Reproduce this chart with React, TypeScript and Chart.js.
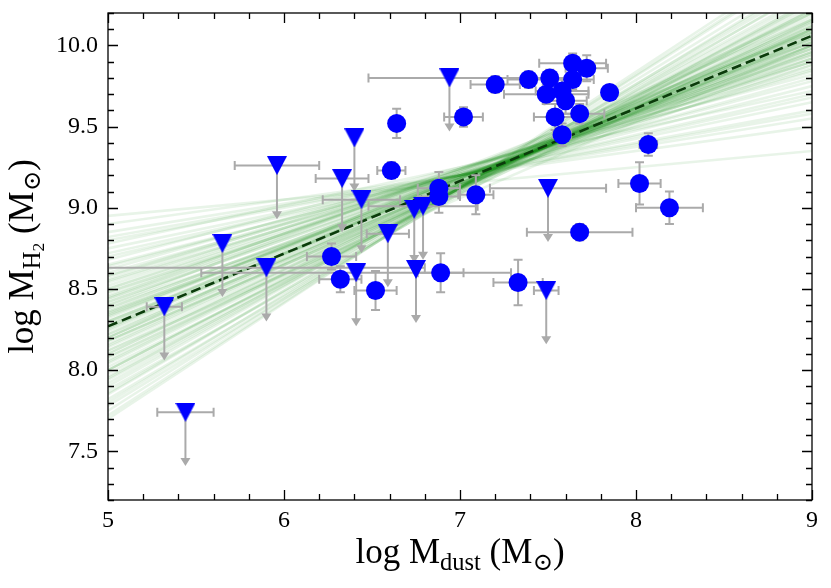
import React, { useEffect, useRef } from "react";
import { Chart, registerables } from "chart.js";

Chart.register(...registerables);

// detections: log M_dust, log M_H2 and their 1-sigma errors
const detX = [6.64, 6.61, 7.02, 7.2, 7.39, 7.51, 7.49, 7.58, 7.6, 7.64, 7.64, 7.72, 7.85, 7.54, 7.68, 7.58, 8.07, 8.02, 8.19, 7.68, 7.09, 6.88, 6.88, 6.27, 6.32, 6.52, 6.89, 7.33];
const detY = [9.52, 9.23, 9.56, 9.76, 9.79, 9.8, 9.7, 9.72, 9.66, 9.79, 9.89, 9.86, 9.71, 9.56, 9.58, 9.45, 9.39, 9.15, 9.0, 8.85, 9.08, 9.12, 9.07, 8.7, 8.56, 8.49, 8.6, 8.54];
const detXErr = [0, 0.08, 0.11, 0.14, 0.12, 0.15, 0.24, 0.15, 0.12, 0.12, 0.19, 0.12, 0, 0.12, 0.14, 0.05, 0.05, 0.12, 0.19, 0.3, 0.1, 0.12, 0.12, 0.14, 0.12, 0.12, 0.13, 0.14];
const detYErr = [0.09, 0.05, 0.06, 0.05, 0.05, 0.05, 0.06, 0.07, 0.08, 0.06, 0.06, 0.08, 0, 0.08, 0.06, 0.07, 0.07, 0.13, 0.1, 0.05, 0.12, 0.1, 0.1, 0.08, 0.08, 0.12, 0.12, 0.14];

// upper limits on M_H2
const limX = [6.94, 6.4, 5.96, 6.33, 6.44, 6.74, 6.79, 7.5, 7.49, 5.65, 5.9, 6.41, 6.59, 5.32, 5.44, 6.75];
const limY = [9.8, 9.43, 9.26, 9.18, 9.05, 8.99, 9.01, 9.12, 8.49, 8.78, 8.63, 8.6, 8.84, 8.39, 7.74, 8.62];
const limXErr = [0.46, 0, 0.24, 0.15, 0.22, 0, 0.31, 0.33, 0.07, 0, 0.9, 0.88, 0.12, 0.1, 0.16, 0];
const limArrow = 0.33;

// best fit line and posterior draws (log M_H2 at log M_dust = 5 and 9)
const fitX = [5, 9];
const fitY = [8.27, 10.06];
const fanY5 = [8.27, 8.2, 8.35, 8.1, 8.42, 8.3, 8.15, 8.22, 8.38, 8.05, 8.48, 8.0, 8.55, 7.95, 8.6, 7.9, 8.65, 7.85, 8.7, 7.8, 8.75, 7.75, 8.82, 7.7, 8.9, 8.95, 8.33, 8.25, 8.18, 8.4, 8.12, 8.28, 8.45, 8.08, 8.36, 8.2, 8.5, 8.02, 8.58, 7.98, 8.62, 7.88, 8.68, 7.82, 8.78, 8.3, 8.24, 8.4, 8.14, 8.44, 8.06, 8.52, 8.32, 8.26, 8.18, 8.36, 8.1, 8.46, 8.0, 8.56, 8.22, 8.34, 8.16, 8.42, 8.04, 8.28, 8.48, 7.96, 8.54, 8.12, 8.38, 8.2, 8.64, 7.92, 8.72, 7.86, 8.3, 8.26, 8.44, 8.08, 8.58, 8.0, 8.34, 8.18, 8.5, 7.94, 8.8, 7.78, 8.85, 7.72];
const fanY9 = [10.06, 10.1, 10.0, 10.18, 9.95, 10.02, 10.14, 10.08, 9.98, 10.22, 9.9, 10.26, 9.85, 10.3, 9.8, 10.35, 9.75, 10.4, 9.7, 10.45, 9.65, 10.5, 9.58, 10.55, 9.5, 9.35, 10.04, 10.12, 10.05, 10.08, 10.0, 10.16, 10.02, 10.1, 9.92, 10.2, 9.96, 10.15, 9.9, 10.22, 9.86, 10.28, 9.82, 10.36, 9.72, 9.96, 10.0, 9.88, 10.12, 10.0, 10.2, 9.94, 10.08, 10.04, 10.1, 10.02, 10.16, 9.98, 10.24, 9.92, 10.08, 10.0, 10.14, 9.96, 10.2, 10.04, 9.92, 10.26, 9.88, 10.12, 9.98, 10.1, 9.78, 10.32, 9.68, 10.38, 10.06, 10.1, 9.94, 10.16, 9.84, 10.22, 10.02, 10.06, 9.9, 10.28, 9.6, 10.42, 9.55, 10.52];

const xTicks = [5, 6, 7, 8, 9];
const yTicks = [7.5, 8.0, 8.5, 9.0, 9.5, 10.0];
const xMinorStep = 0.2;
const yMinorStep = 0.1;

const FONT = "'Liberation Serif', 'DejaVu Serif', serif";
const BAR = "#aaaaaa";

type Part = [string, number];

// draws text with subscript levels, centred on x
const drawRich = (ctx: CanvasRenderingContext2D, parts: Part[], x: number, y: number, size: number) => {
  const scale = [1, 0.7, 0.5];
  const shift = [0, 0.2, 0.32];
  let total = 0;
  parts.forEach(([t, l]) => {
    ctx.font = `${size * scale[l]}px ${FONT}`;
    total += ctx.measureText(t).width;
  });
  let cx = x - total / 2;
  parts.forEach(([t, l]) => {
    ctx.font = `${size * scale[l]}px ${FONT}`;
    ctx.fillText(t, cx, y + size * shift[l]);
    cx += ctx.measureText(t).width;
  });
};

const errorBars = {
  id: "errorBars",
  beforeDatasetDraw(chart: any, args: any) {
    if (args.index !== 1) return;
    const { ctx, chartArea: a, scales } = chart;
    const xs = scales.x;
    const ys = scales.y;
    ctx.save();
    ctx.beginPath();
    ctx.rect(a.left, a.top, a.right - a.left, a.bottom - a.top);
    ctx.clip();
    ctx.strokeStyle = BAR;
    ctx.fillStyle = BAR;
    ctx.lineWidth = 2;
    const cap = 4.5;
    const hbar = (x: number, y: number, e: number) => {
      if (!e) return;
      const l = xs.getPixelForValue(x - e);
      const r = xs.getPixelForValue(x + e);
      const py = ys.getPixelForValue(y);
      ctx.beginPath();
      ctx.moveTo(l, py); ctx.lineTo(r, py);
      ctx.moveTo(l, py - cap); ctx.lineTo(l, py + cap);
      ctx.moveTo(r, py - cap); ctx.lineTo(r, py + cap);
      ctx.stroke();
    };
    detX.forEach((x, i) => {
      hbar(x, detY[i], detXErr[i]);
      const e = detYErr[i];
      if (!e) return;
      const px = xs.getPixelForValue(x);
      const t = ys.getPixelForValue(detY[i] + e);
      const b = ys.getPixelForValue(detY[i] - e);
      ctx.beginPath();
      ctx.moveTo(px, t); ctx.lineTo(px, b);
      ctx.moveTo(px - cap, t); ctx.lineTo(px + cap, t);
      ctx.moveTo(px - cap, b); ctx.lineTo(px + cap, b);
      ctx.stroke();
    });
    limX.forEach((x, i) => {
      hbar(x, limY[i], limXErr[i]);
      const px = xs.getPixelForValue(x);
      const t = ys.getPixelForValue(limY[i]);
      const b = ys.getPixelForValue(limY[i] - limArrow);
      ctx.beginPath();
      ctx.moveTo(px, t); ctx.lineTo(px, b - 6);
      ctx.stroke();
      ctx.beginPath();
      ctx.moveTo(px - 5, b - 8); ctx.lineTo(px + 5, b - 8); ctx.lineTo(px, b);
      ctx.closePath();
      ctx.fill();
    });
    ctx.restore();
  },
};

const frame = {
  id: "frame",
  afterDraw(chart: any) {
    const { ctx, chartArea: a, scales } = chart;
    const xs = scales.x;
    const ys = scales.y;
    ctx.save();
    ctx.strokeStyle = "#000";
    ctx.lineWidth = 1.3;
    ctx.strokeRect(a.left, a.top, a.right - a.left, a.bottom - a.top);
    ctx.beginPath();
    for (let v = xs.min; v <= xs.max + 1e-6; v += xMinorStep) {
      const px = Math.round(xs.getPixelForValue(v)) + 0.5;
      const major = xTicks.some((t) => Math.abs(t - v) < 1e-6);
      const len = major ? 10 : 6;
      ctx.moveTo(px, a.bottom); ctx.lineTo(px, a.bottom - len);
      ctx.moveTo(px, a.top); ctx.lineTo(px, a.top + len);
    }
    for (let v = ys.min; v <= ys.max + 1e-6; v += yMinorStep) {
      const py = Math.round(ys.getPixelForValue(v)) + 0.5;
      const major = yTicks.some((t) => Math.abs(t - v) < 1e-6);
      const len = major ? 10 : 6;
      ctx.moveTo(a.left, py); ctx.lineTo(a.left + len, py);
      ctx.moveTo(a.right, py); ctx.lineTo(a.right - len, py);
    }
    ctx.stroke();

    ctx.fillStyle = "#000";
    ctx.textAlign = "left";
    ctx.textBaseline = "alphabetic";
    drawRich(ctx, [["log M", 0], ["dust", 1], [" (M", 0], ["\u2299", 1], [")", 0]], (a.left + a.right) / 2, 563, 35);
    ctx.translate(33, (a.top + a.bottom) / 2);
    ctx.rotate(-Math.PI / 2);
    drawRich(ctx, [["log M", 0], ["H", 1], ["2", 2], [" (M", 0], ["\u2299", 1], [")", 0]], 0, 0, 35);
    ctx.restore();
  },
};

const makeTriangle = () => {
  const c = document.createElement("canvas");
  c.width = 20;
  c.height = 19;
  const g = c.getContext("2d")!;
  g.fillStyle = "#0000ff";
  g.beginPath();
  g.moveTo(0, 0);
  g.lineTo(20, 0);
  g.lineTo(10, 19);
  g.closePath();
  g.fill();
  return c;
};

const App: React.FC = () => {
  const canvasRef = useRef<HTMLCanvasElement | null>(null);
  const chartRef = useRef<Chart | null>(null);

  useEffect(() => {
    if (!canvasRef.current) return;
    if (chartRef.current) chartRef.current.destroy();

    const fan = fanY5.map((y5, i) => ({
      data: [
        { x: 5, y: y5 },
        { x: 9, y: fanY9[i] },
      ],
      showLine: true,
      borderColor: "rgba(0,128,0,0.09)",
      borderWidth: 2.6,
      pointRadius: 0,
    }));

    chartRef.current = new Chart(canvasRef.current, {
      type: "scatter",
      data: {
        datasets: [
          {
            data: detX.map((x, i) => ({ x, y: detY[i] })),
            backgroundColor: "#0000ff",
            borderWidth: 0,
            pointRadius: 9.5,
          },
          {
            data: limX.map((x, i) => ({ x, y: limY[i] })),
            pointStyle: makeTriangle(),
          },
          {
            data: fitX.map((x, i) => ({ x, y: fitY[i] })),
            showLine: true,
            borderColor: "#0b3b0b",
            borderWidth: 2.6,
            borderDash: [10, 5],
            pointRadius: 0,
          },
          ...fan,
        ] as any,
      },
      options: {
        animation: false,
        responsive: false,
        layout: { padding: { top: 13, right: 19, left: 0, bottom: 0 } },
        plugins: { legend: { display: false }, tooltip: { enabled: false } },
        scales: {
          x: {
            type: "linear",
            min: 5,
            max: 9,
            grid: { display: false, drawTicks: false },
            border: { display: false },
            afterBuildTicks: (s: any) => {
              s.ticks = xTicks.map((v) => ({ value: v }));
            },
            afterFit: (s: any) => {
              s.height = 88;
              s.paddingLeft = 0;
              s.paddingRight = 0;
            },
            ticks: {
              color: "#000",
              padding: 6,
              font: { family: FONT, size: 24 },
              callback: (v: any) => String(v),
            },
          },
          y: {
            type: "linear",
            min: 7.2,
            max: 10.2,
            grid: { display: false, drawTicks: false },
            border: { display: false },
            afterBuildTicks: (s: any) => {
              s.ticks = yTicks.map((v) => ({ value: v }));
            },
            afterFit: (s: any) => {
              s.width = 108;
              s.paddingTop = 0;
              s.paddingBottom = 0;
            },
            ticks: {
              color: "#000",
              padding: 10,
              font: { family: FONT, size: 24 },
              callback: (v: any) => Number(v).toFixed(1),
            },
          },
        },
      },
      plugins: [errorBars, frame],
    });

    return () => {
      if (chartRef.current) {
        chartRef.current.destroy();
        chartRef.current = null;
      }
    };
  }, []);

  return (
    <div style={{ position: "absolute", left: 0, top: 0, width: 831, height: 588 }}>
      <canvas ref={canvasRef} width={831} height={588}></canvas>
    </div>
  );
};

export default App;
